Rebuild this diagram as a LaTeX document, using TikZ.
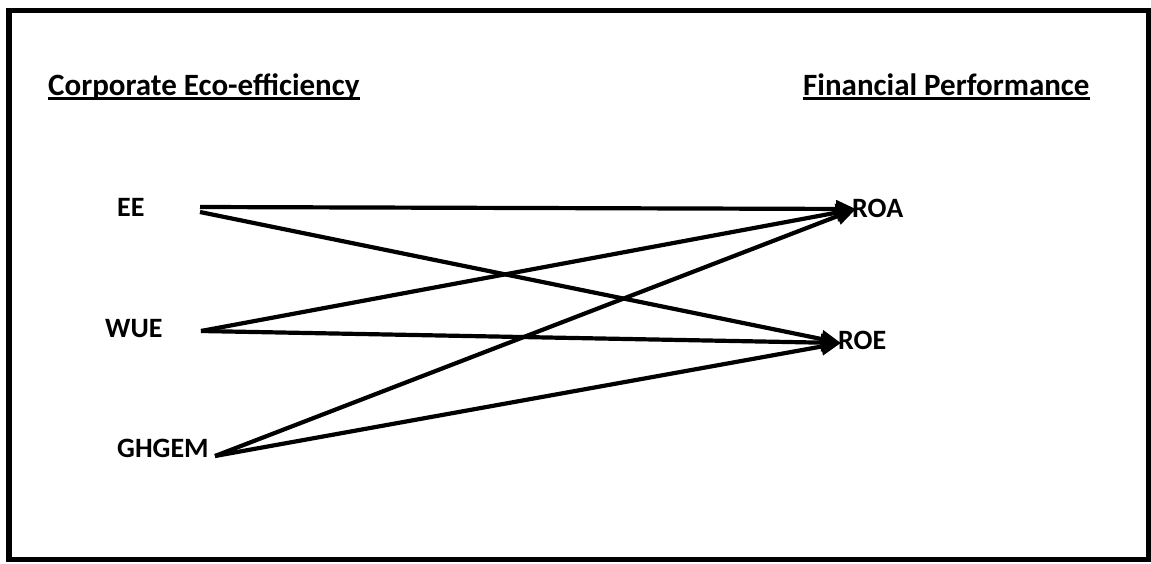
\documentclass[tikz,border=0pt]{standalone}
\usepackage{fontspec}
\setmainfont{Carlito}
\usetikzlibrary{arrows.meta}
\begin{document}
\begin{tikzpicture}[x=1pt,y=-1pt,
  head/.style={inner sep=0pt,anchor=base west,font=\fontsize{31}{36}\selectfont\bfseries},
  lbl/.style={inner sep=0pt,anchor=base west,font=\fontsize{28}{32}\selectfont\bfseries},
  link/.style={line width=4.2pt,-{Triangle[length=20pt,width=17pt]}},
  uline/.style={line width=2.4pt}]
\useasboundingbox (0,0) rectangle (1151,563);
\draw[line width=5.5pt] (9,10.5) rectangle (1148.5,559.5);
\node[head] (h1) at (48,95) {Corporate Eco-efficiency};
\node[head] (h2) at (803,95) {Financial Performance};
\draw[uline] ([yshift=-3.5pt]h1.base west) -- ([yshift=-3.5pt]h1.base east);
\draw[uline] ([yshift=-3.5pt]h2.base west) -- ([yshift=-3.5pt]h2.base east);
\node[lbl] (EE) at (117,216) {EE};
\node[lbl] (WUE) at (105,337) {WUE};
\node[lbl] (GHGEM) at (117,457) {GHGEM};
\node[lbl] (ROA) at (852,217) {ROA};
\node[lbl] (ROE) at (838,349) {ROE};
\coordinate (eeA) at (200,207);
\coordinate (eeB) at (200,212);
\coordinate (wue) at (201,331);
\coordinate (gh) at (215,456);
\coordinate (roa) at (856,209);
\coordinate (roe) at (841,343);
\draw[link] (eeA) -- (roa);
\draw[link] (eeB) -- (roe);
\draw[link] (wue) -- (roa);
\draw[link] (wue) -- (roe);
\draw[link] (gh) -- (roa);
\draw[link] (gh) -- (roe);
\end{tikzpicture}
\end{document}
